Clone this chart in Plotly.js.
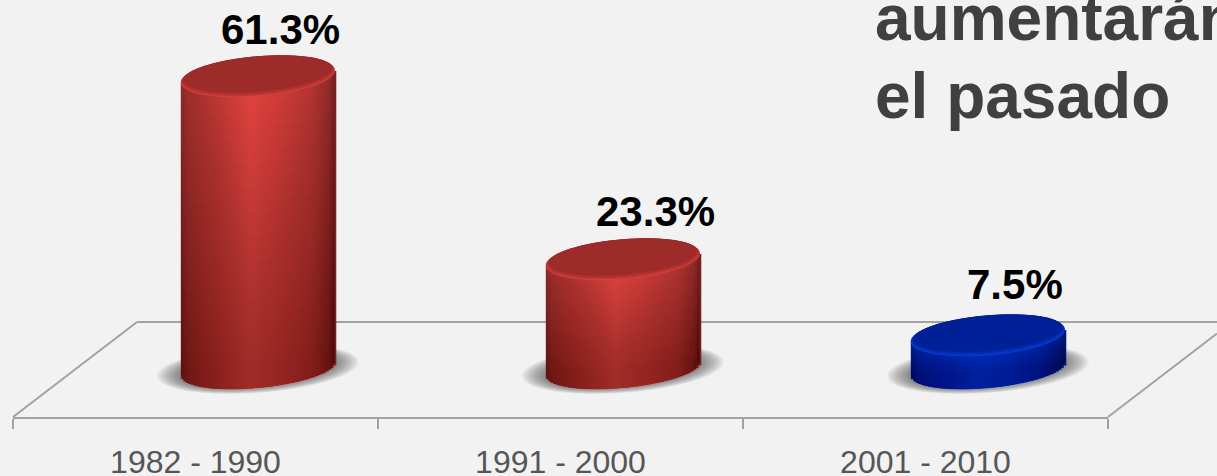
<!DOCTYPE html>
<html><head><meta charset="utf-8">
<script src="https://cdn.plot.ly/plotly-3.0.1.min.js"></script>
<style>html,body{margin:0;padding:0;background:#f2f2f2;overflow:hidden}</style>
</head><body><div id="c" style="width:1217px;height:476px"></div>
<script>
var categories = ['1982 - 1990', '1991 - 2000', '2001 - 2010'];
var values = [61.3, 23.3, 7.5];
var valueLabels = ['61.3%', '23.3%', '7.5%'];
var seriesTone = ['red', 'red', 'blue'];
var headingLines = ['aumentarán', 'el pasado'];

var W = 1217, H = 476, L = 13, R = 1108, B = 417, BASE = 372, SCALE = 4.816, FOOT = 3;
var catPx = (R - L) / 3, depth = 62.3 / catPx, halfW = 77;
var yRange = [(BASE - B) / SCALE, BASE / SCALE];
var stops = {
  red:  [[-1,[135,40,38]],[-.92,[155,46,44]],[-.5,[192,56,52]],[-.1,[226,67,63]],[.3,[208,60,56]],[.7,[180,53,50]],[.93,[145,42,41]],[1,[112,32,31]]],
  blue: [[-1,[0,28,130]],[-.92,[0,36,160]],[-.5,[0,45,192]],[-.1,[7,56,222]],[.3,[2,50,206]],[.7,[0,41,172]],[.93,[0,32,140]],[1,[0,25,112]]]
};
var capTones = {
  red:  ['#d4403c', '#c23733', '#b43330', '#a82f2d', '#9c2b29'],
  blue: ['#0a3ad0', '#0633c2', '#032db2', '#0126a4', '#002098']
};
function tone(name, t) {
  var s = stops[name];
  for (var i = 1; i < s.length; i++) {
    if (t <= s[i][0]) {
      var f = (t - s[i-1][0]) / (s[i][0] - s[i-1][0]), c = s[i-1][1], d = s[i][1];
      return 'rgb(' + [0,1,2].map(function (k) { return Math.round(c[k] + (d[k]-c[k]) * f); }).join(',') + ')';
    }
  }
  return 'rgb(' + s[s.length-1][1].join(',') + ')';
}
function ellipsePath(i, yv, a, b, tilt, dyPx) {
  var pts = [];
  for (var k = 0; k < 72; k++) {
    var th = k / 72 * 2 * Math.PI, c = Math.cos(th), s = Math.sin(th);
    pts.push((i + depth + c * a / catPx).toFixed(5) + ',' + (yv + (tilt * c + b * s + dyPx) / SCALE).toFixed(4));
  }
  return 'M' + pts.join('L') + 'Z';
}
var traces = [], shapes = [];
var strips = 62, tiltB = 7, bB = 19;
for (var n = 0; n < strips; n++) {
  var t = -1 + (n + .5) / strips * 2;
  var sq = Math.sqrt(Math.max(0, 1 - t * t));
  var lower = (tiltB * t - bB * sq + FOOT) / SCALE;
  traces.push({
    type: 'bar', x: categories, hoverinfo: 'skip', showlegend: false,
    base: values.map(function () { return lower; }),
    y: values.map(function (v) { return v + (6 * t) / SCALE - lower; }),
    width: 2 * halfW / catPx / strips * 1.6,
    offset: depth + (t - 1 / strips) * halfW / catPx,
    marker: { color: seriesTone.map(function (c) { return tone(c, t); }), line: { width: 0 } }
  });
}
traces.push({ type: 'scatter', xaxis: 'x2', yaxis: 'y', mode: 'markers', x: [0, 1, 2], y: values,
  marker: { opacity: 0 }, hoverinfo: 'skip', showlegend: false });

var floorColor = '#a2a2a2';
function px(x) { return (x - L) / (R - L); }
function py(y) { return (B - y) / B; }
function floorLine(x0, y0, x1, y1) {
  shapes.push({ type: 'line', xref: 'paper', yref: 'paper', layer: 'below',
    x0: px(x0), y0: py(y0), x1: px(x1), y1: py(y1), line: { color: floorColor, width: 2 } });
}
floorLine(13, 417, 137, 322);
floorLine(137, 322, 1217, 322);
floorLine(1108, 417, 1217, 333.5);

values.forEach(function (v, i) {
  var c = seriesTone[i];
  for (var k = 0; k < 18; k++) {
    var g = 1 - k * 0.016;
    shapes.push({ type: 'path', xref: 'x2', yref: 'y', layer: 'below',
      path: ellipsePath(i, 0, 101 * g, 24 * g, 7, FOOT), fillcolor: 'rgba(70,70,70,0.055)', line: { width: 0 } });
  }
  for (var lv = 1; lv < 24; lv++) {
    var topY = v * lv / 24, pts = [];
    for (var q = 0; q <= 40; q++) {
      var tt = -1 + q / 20, ss = Math.sqrt(Math.max(0, 1 - tt * tt));
      pts.push((i + depth + tt * halfW / catPx).toFixed(5) + ',' + ((tiltB * tt - bB * ss + FOOT) / SCALE).toFixed(4));
    }
    pts.push((i + depth + halfW / catPx).toFixed(5) + ',' + (topY + 6 / SCALE).toFixed(4));
    pts.push((i + depth - halfW / catPx).toFixed(5) + ',' + (topY - 6 / SCALE).toFixed(4));
    shapes.push({ type: 'path', xref: 'x2', yref: 'y', layer: 'above', path: 'M' + pts.join('L') + 'Z',
      fillcolor: 'rgba(0,0,0,0.0105)', line: { width: 0 } });
  }
  var caps = capTones[c];
  [[0, 19.5, 0], [0, 19.2, .7], [-1, 18.8, 1.5], [-2, 18.2, 2.3], [-3, 17.6, 3]].forEach(function (e, j) {
    shapes.push({ type: 'path', xref: 'x2', yref: 'y', layer: 'above',
      path: ellipsePath(i, v, halfW + e[0], e[1], 6, e[2]), fillcolor: caps[j], line: { width: 0 } });
  });
});

var labelDx = [23, 33, 27];
var labelDy = [47, 48, 51];
var annotations = values.map(function (v, i) {
  return { xref: 'x2', yref: 'y', x: i + depth, y: v, xshift: labelDx[i], yshift: labelDy[i], text: '<b>' + valueLabels[i] + '</b>',
    showarrow: false, font: { family: 'Liberation Sans, Arial, sans-serif', size: 42, color: '#000000' },
    xanchor: 'center', yanchor: 'middle' };
});
headingLines.forEach(function (txt, i) {
  annotations.push({ xref: 'paper', yref: 'paper', x: px(873), y: py([18, 96][i]), text: '<b>' + txt + '</b>',
    showarrow: false, xanchor: 'left', yanchor: 'middle', align: 'left',
    font: { family: 'Liberation Sans, Arial, sans-serif', size: 64, color: '#404040' } });
});

Plotly.newPlot('c', traces, {
  width: W, height: H, paper_bgcolor: '#f2f2f2', plot_bgcolor: 'rgba(0,0,0,0)',
  margin: { l: L, r: W - R, t: 0, b: H - B, pad: 0 },
  barmode: 'overlay', showlegend: false, shapes: shapes, annotations: annotations,
  xaxis: { type: 'category', categoryorder: 'array', categoryarray: categories, tickson: 'boundaries',
    range: [-0.5, 2.5], showgrid: false, zeroline: false, showline: true, linecolor: floorColor, linewidth: 2,
    ticks: 'outside', ticklen: 10, tickwidth: 2, tickcolor: floorColor, ticklabelstandoff: 16,
    tickfont: { family: 'Liberation Sans, Arial, sans-serif', size: 32, color: '#565656' } },
  xaxis2: { overlaying: 'x', anchor: 'y', type: 'linear', range: [-0.5, 2.5], visible: false, fixedrange: true },
  yaxis: { range: yRange, visible: false, showgrid: false, zeroline: false }
}, { displayModeBar: false, staticPlot: true });
</script></body></html>
